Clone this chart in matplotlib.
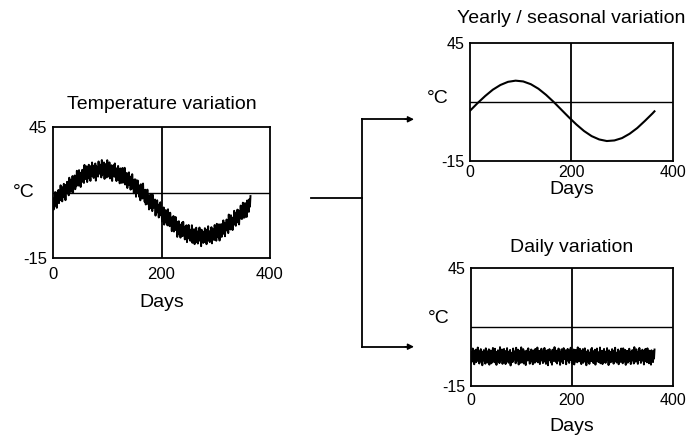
import matplotlib
matplotlib.use("Agg")
import matplotlib.pyplot as plt
from matplotlib.lines import Line2D
import numpy as np

plt.rcParams['font.family'] = ['Liberation Sans', 'DejaVu Sans']
plt.rcParams['axes.unicode_minus'] = False

# seasonal (yearly) curve, read every 15 days
season_days = [0, 15, 30, 45, 60, 75, 90, 105, 120, 135, 150, 165, 180,
               195, 210, 225, 240, 255, 270, 285, 300, 315, 330, 345, 360, 364]
season_temp = [10.4, 14.3, 17.9, 21.1, 23.5, 25.1, 25.7, 25.3, 23.9, 21.6, 18.5, 14.9, 11.0,
               7.1, 3.4, 0.1, -2.5, -4.2, -5.0, -4.7, -3.5, -1.3, 1.6, 5.2, 9.0, 10.1]

# daily variation (day to day anomaly), one value per day
daily_anom = [
    2.1, -3.4, 1.2, -0.8, 3.9, -2.6, 0.4, -4.1, 2.8, -1.5, 3.3, -3.0, 1.7, -2.2, 4.4, -1.1, 0.9, -3.7, 2.5, -0.6,
    3.6, -2.9, 1.4, -4.6, 2.2, -0.3, 3.1, -2.4, 0.8, -3.8, 4.0, -1.7, 2.6, -3.2, 1.0, -2.0, 3.5, -4.3, 1.9, -0.9,
    2.9, -3.6, 0.5, -2.7, 4.2, -1.3, 1.6, -3.1, 3.8, -0.7, 2.3, -4.4, 1.1, -2.5, 3.0, -1.9, 0.6, -3.5, 4.6, -2.1,
    1.3, -0.5, 3.4, -3.9, 2.0, -1.4, 3.7, -2.8, 0.2, -4.0, 2.7, -1.0, 4.1, -2.3, 1.5, -3.3, 2.4, -0.4, 3.2, -4.7,
    1.8, -2.6, 0.7, -3.0, 3.9, -1.8, 2.5, -0.2, 1.2, -3.6, 4.3, -2.4, 0.9, -1.6, 3.3, -4.2, 2.0, -0.8, 2.8, -3.4,
    4.5, -1.2, 1.0, -2.9, 3.6, -3.7, 0.3, -2.0, 2.6, -4.5, 1.7, -0.6, 3.0, -2.2, 4.0, -1.5, 1.3, -3.8, 2.2, -1.0,
    3.4, -2.7, 0.6, -4.1, 2.9, -0.9, 1.9, -3.3, 3.7, -1.7, 0.4, -2.6, 4.4, -3.1, 1.6, -0.3, 2.7, -4.0, 1.1, -2.3,
    3.8, -1.4, 2.3, -3.5, 0.8, -2.8, 4.2, -0.7, 1.5, -3.9, 2.6, -1.9, 3.1, -4.6, 0.5, -2.1, 3.6, -1.3, 2.0, -3.2,
    1.2, -4.3, 3.3, -0.6, 2.4, -2.5, 4.6, -1.8, 0.9, -3.0, 2.8, -3.7, 1.4, -0.2, 3.9, -2.4, 1.7, -4.4, 2.1, -1.1,
    3.5, -2.9, 0.7, -3.6, 4.1, -1.5, 2.2, -0.8, 3.0, -4.1, 1.6, -2.3, 3.7, -1.0, 0.4, -3.4, 2.9, -2.0, 4.3, -0.5,
    1.9, -3.8, 2.5, -1.6, 3.4, -4.2, 0.6, -2.7, 3.2, -0.9, 2.0, -3.1, 4.5, -1.9, 1.1, -2.6, 3.8, -0.4, 1.5, -4.0,
    2.7, -1.2, 3.6, -3.3, 0.8, -2.2, 4.0, -1.4, 2.3, -4.6, 1.3, -0.7, 3.1, -2.9, 2.0, -3.9, 0.5, -1.8, 3.5, -2.5,
    4.2, -0.8, 1.8, -3.5, 2.6, -1.1, 3.3, -4.3, 0.9, -2.4, 3.9, -1.6, 2.1, -3.0, 0.3, -2.1, 4.4, -3.6, 1.4, -0.6,
    2.8, -4.0, 1.0, -1.9, 3.7, -2.8, 0.7, -3.4, 2.4, -1.3, 4.1, -2.0, 1.6, -4.5, 3.0, -0.3, 2.2, -3.1, 1.2, -2.6,
    3.6, -1.5, 0.5, -3.8, 2.9, -0.9, 4.3, -2.3, 1.8, -3.2, 0.6, -1.7, 3.4, -4.1, 2.5, -1.0, 1.3, -2.9, 3.9, -0.4,
    2.0, -3.6, 4.0, -1.2, 1.1, -2.7, 3.2, -4.4, 0.8, -1.9, 2.7, -3.3, 1.5, -0.6, 3.8, -2.5, 2.3, -4.0, 0.9, -1.4,
    3.1, -2.2, 1.7, -3.7, 4.6, -1.1, 0.4, -2.8, 3.5, -0.7, 2.1, -3.9, 1.2, -2.0, 4.2, -1.6, 2.6, -3.4, 0.7, -2.4,
    3.3, -0.9, 2.4, -4.2, 1.0, -1.8, 3.7, -2.6, 0.6, -3.1, 4.0, -1.4, 1.9, -3.6, 2.8, -0.5, 1.4, -4.3, 3.0, -2.1,
    1.6, -3.0, 2.5, -1.2, 3.4,
]
days = np.arange(len(daily_anom))

x_ticks = [0, 200, 400]
y_ticks = [-15, 45]

# total temperature = seasonal + daily
total_temp = np.interp(days, season_days, season_temp) + np.array(daily_anom)


def panel(ax, x, y, lw, title, title_pad, tick_size, xpad, ylab_xy, xlab_y):
    ax.plot(x, y, color='black', lw=lw)
    ax.axvline(200, color='black', lw=1.3)
    ax.axhline(15, color='black', lw=1.0)
    ax.set_xlim(0, 400)
    ax.set_ylim(-15, 45)
    ax.set_xticks(x_ticks)
    ax.set_yticks(y_ticks)
    ax.tick_params(length=0, labelsize=tick_size, pad=4)
    ax.tick_params(axis='x', pad=xpad)
    for s in ax.spines.values():
        s.set_linewidth(1.3)
        s.set_color('black')
    ax.set_title(title, fontsize=14, pad=title_pad)
    ax.set_ylabel('°C', rotation=0, fontsize=14, va='center', ha='center')
    ax.yaxis.set_label_coords(*ylab_xy)
    ax.set_xlabel('Days', fontsize=14)
    ax.xaxis.set_label_coords(0.5, xlab_y)
    ax.xaxis.label.set_va('center')


W, H = 689, 446
fig = plt.figure(figsize=(W / 100, H / 100), dpi=100)

ax1 = fig.add_axes([53 / W, 1 - 258.3 / H, 217 / W, 131 / H])
ax2 = fig.add_axes([470 / W, 1 - 160.7 / H, 202.7 / W, 118 / H])
ax3 = fig.add_axes([470.7 / W, 1 - 385.7 / H, 202 / W, 118 / H])

panel(ax1, days, total_temp, 1.4, 'Temperature variation', 13, 12, 6, (-0.135, 0.5), -0.334)
panel(ax2, season_days, season_temp, 1.5, 'Yearly / seasonal variation', 14, 11.5, 3, (-0.158, 0.53), -0.245)
panel(ax3, days, daily_anom, 1.4, 'Daily variation', 11, 11.5, 5, (-0.16, 0.57), -0.347)

# connector arrows (figure coordinates)
def fx(px):
    return px / W


def fy(py):
    return 1 - py / H


fig.add_artist(Line2D([fx(311), fx(361.7)], [fy(198.3), fy(198.3)], color='black', lw=1.3,
                      transform=fig.transFigure))
fig.add_artist(Line2D([fx(361.7), fx(361.7)], [fy(119.3), fy(346.7)], color='black', lw=1.3,
                      transform=fig.transFigure))
for yy in (119.3, 346.7):
    fig.add_artist(Line2D([fx(361.7), fx(408)], [fy(yy), fy(yy)], color='black', lw=1.3,
                          transform=fig.transFigure))
    plt.annotate('', xy=(fx(414), fy(yy)), xytext=(fx(405), fy(yy)), xycoords='figure fraction',
                 textcoords='figure fraction',
                 arrowprops=dict(arrowstyle='-|>', color='black', lw=1.0, mutation_scale=9,
                                 shrinkA=0, shrinkB=0))

fig.savefig('out.png', dpi=100)
